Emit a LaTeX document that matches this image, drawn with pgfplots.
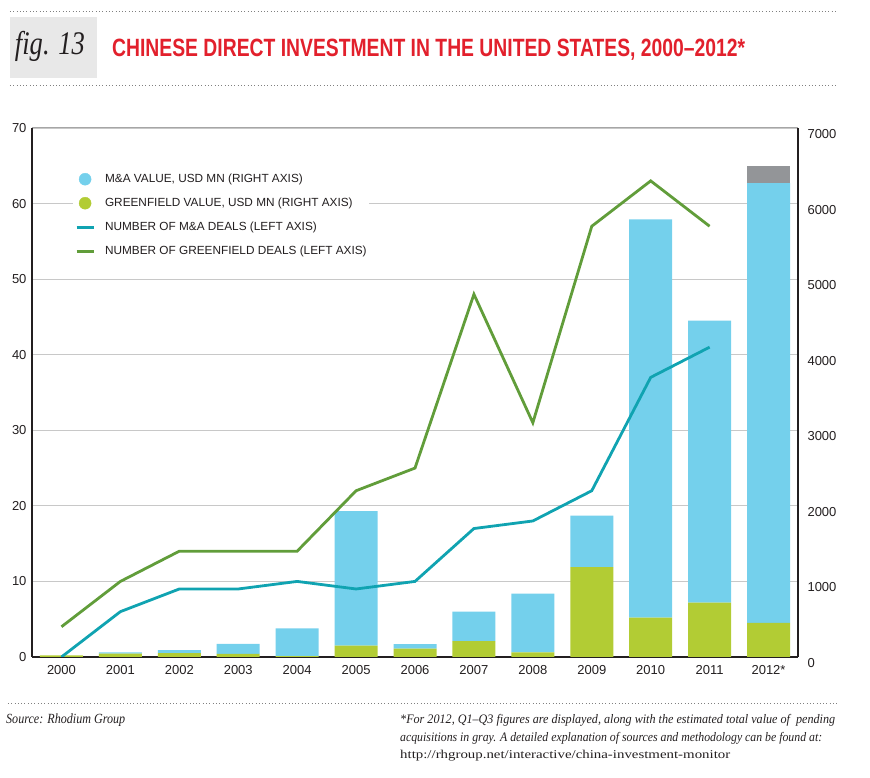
\documentclass[border=0pt]{standalone}
\usepackage{fontspec}
\usepackage{graphicx}
\usepackage{pgfplots}
\usepackage{pgfplotstable}
\pgfplotsset{compat=1.18}
\setmainfont{Liberation Sans}
\newfontfamily\legfont{Liberation Sans}
\newfontfamily\serifc{Liberation Serif}
\definecolor{mablue}{RGB}{116,208,236}
\definecolor{gfgreen}{RGB}{178,204,52}
\definecolor{pendgray}{RGB}{147,149,152}
\definecolor{tealline}{RGB}{16,163,177}
\definecolor{greenline}{RGB}{97,157,58}
\definecolor{titlered}{RGB}{226,32,44}
\definecolor{axisdark}{RGB}{35,31,32}
\definecolor{gridgray}{RGB}{200,200,200}

\pgfplotstableread{
x gf ma pend
0 20 0 0
1 44 18 0
2 50 40 0
3 40 135 0
4 10 370 0
5 150 1780 0
6 110 60 0
7 210 390 0
8 60 780 0
9 1190 680 0
10 520 5270 0
11 720 3730 0
12 450 5820 230
}\bars

\pgfplotstableread{
x ma gf
0 0 4
1 6 10
2 9 14
3 9 14
4 10 14
5 9 22
6 10 25
7 17 48
8 18 31
9 22 57
10 37 63
11 41 57
}\deals

\tikzset{dotline/.style={gray, line width=0.9pt, dash pattern=on 0.9pt off 2.4pt}}

\begin{document}
\begin{tikzpicture}[x=1pt,y=1pt]
\useasboundingbox (-32,-121) rectangle (838,657);
% header
\draw[dotline] (-22,646) -- (805,646);
\fill[gray!18] (-22,579) rectangle (65,640);
\node[anchor=base, inner sep=0, text=axisdark] at (18,602) {\resizebox{70pt}{\height}{\serifc\itshape\fontsize{33}{33}\selectfont fig. 13}};
\node[anchor=base west, inner sep=0, text=titlered] at (80,600) {\resizebox{633pt}{\height}{\bfseries\fontsize{25}{25}\selectfont CHINESE DIRECT INVESTMENT IN THE UNITED STATES, 2000–2012*}};
\draw[dotline] (-22,572) -- (805,572);

\begin{axis}[
  at={(0pt,0pt)}, anchor=south west, scale only axis,
  width=766pt, height=529pt,
  xmin=-0.5, xmax=12.5, ymin=0, ymax=7000,
  axis x line*=bottom, axis y line*=right,
  axis line style={-, axisdark, line width=1.4pt},
  ybar stacked, bar width=43pt,
  xtick={0,...,12},
  xticklabels={2000,2001,2002,2003,2004,2005,2006,2007,2008,2009,2010,2011,2012*},
  ytick={0,1000,...,7000},
  major tick length=0pt,
  ymajorgrids, grid style={gridgray, line width=0.9pt},
  tick label style={font=\fontsize{13}{13}\selectfont, text=axisdark},
  xticklabel style={yshift=-5pt},
  yticklabel style={xshift=6pt, yshift=-6pt},
  /pgf/number format/1000 sep={},
  /pgf/number format/assume math mode=true,
]
\addplot[fill=gfgreen, draw=none] table[x=x,y=gf]{\bars};
\addplot[fill=mablue, draw=none] table[x=x,y=ma]{\bars};
\addplot[fill=pendgray, draw=none] table[x=x,y=pend]{\bars};
\draw[gray!70, line width=1pt] (rel axis cs:0,1) -- (rel axis cs:1,1);
\end{axis}

\begin{axis}[
  at={(0pt,0pt)}, anchor=south west, scale only axis,
  width=766pt, height=529pt,
  xmin=-0.5, xmax=12.5, ymin=0, ymax=70,
  axis x line=none, axis y line*=left,
  axis line style={-, axisdark, line width=1.4pt},
  ytick={0,10,...,70},
  major tick length=0pt,
  tick label style={font=\fontsize{13}{13}\selectfont, text=axisdark},
  yticklabel style={xshift=-2pt},
  /pgf/number format/assume math mode=true,
  legend cell align=left,
  legend style={at={(0.0535,0.9225)}, anchor=north west, draw=none, fill=white,
    inner xsep=2pt, inner ysep=4pt,
    font=\legfont\fontsize{11.8}{11.8}\selectfont, text=axisdark,
    row sep=12pt, column sep=10pt,
    nodes={inner sep=0pt, text height=9.5pt, text depth=2.5pt}},
]
\addlegendimage{only marks, mark=*, mark size=6pt, mark options={draw=mablue, fill=mablue}}
\addlegendentry{M\&A VALUE, USD MN (RIGHT AXIS)}
\addlegendimage{only marks, mark=*, mark size=6pt, mark options={draw=gfgreen, fill=gfgreen}}
\addlegendentry{GREENFIELD VALUE, USD MN (RIGHT AXIS)}
\addplot[tealline, line width=2.8pt, mark=none] table[x=x,y=ma]{\deals};
\addlegendentry{NUMBER OF M\&A DEALS (LEFT AXIS)}
\addplot[greenline, line width=2.8pt, mark=none] table[x=x,y=gf]{\deals};
\addlegendentry{NUMBER OF GREENFIELD DEALS (LEFT AXIS)\hspace{14pt}}
\end{axis}

% footer
\draw[dotline] (-24,-46) -- (806,-46);
\node[anchor=base west, inner sep=0, text=axisdark] at (-26,-67) {\resizebox{119pt}{\height}{\serifc\itshape\fontsize{14}{14}\selectfont Source: Rhodium Group}};
\node[anchor=base west, inner sep=0, text=axisdark] at (368,-67) {\resizebox{435pt}{\height}{\serifc\itshape\fontsize{13}{13}\selectfont *For 2012, Q1–Q3 figures are displayed, along with the estimated total value of\ \ pending}};
\node[anchor=base west, inner sep=0, text=axisdark] at (368,-85) {\resizebox{422pt}{\height}{\serifc\itshape\fontsize{13}{13}\selectfont acquisitions in gray. A detailed explanation of sources and methodology can be found at:}};
\node[anchor=base west, inner sep=0, text=axisdark] at (368,-102) {\resizebox{330pt}{\height}{\serifc\fontsize{12}{12}\selectfont http://rhgroup.net/interactive/china-investment-monitor}};
\end{tikzpicture}
\end{document}
